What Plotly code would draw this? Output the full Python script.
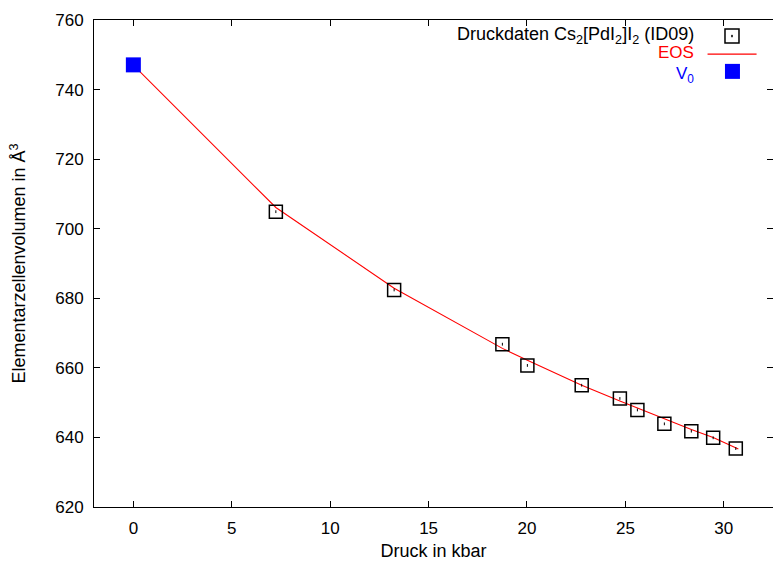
import plotly.graph_objects as go

# ---- data ----
pressure = [7.24, 13.25, 18.75, 20.02, 22.78, 24.72, 25.61, 26.98, 28.35, 29.46, 30.61]
volume = [704.9, 682.4, 666.8, 660.7, 655.0, 651.2, 647.9, 643.9, 641.8, 639.9, 636.8]

eos_p = [0.0, 7.24, 13.25, 18.75, 20.02, 22.78, 24.72, 25.61, 26.98, 28.35, 29.46, 30.61, 30.74]
eos_v = [747.0, 706.1, 682.9, 665.6, 662.2, 655.0, 650.5, 648.5, 645.3, 642.3, 640.0, 637.0, 636.7]

v0_p = [0.0]
v0_v = [747.1]

x_ticks = [0, 5, 10, 15, 20, 25, 30]
y_ticks = [620, 640, 660, 680, 700, 720, 740, 760]

FONT = "Liberation Sans"

fig = go.Figure()

fig.add_trace(go.Scatter(
    x=eos_p, y=eos_v, mode="lines",
    line=dict(color="#ff0000", width=1.1),
    showlegend=False, hoverinfo="skip"))

fig.add_trace(go.Scatter(
    x=pressure, y=volume, mode="markers",
    marker=dict(symbol="square-open", size=13, color="#000000",
                line=dict(color="#000000", width=1.5)),
    showlegend=False))

# tiny centre dot of gnuplot point type
fig.add_trace(go.Scatter(
    x=pressure, y=volume, mode="markers",
    marker=dict(symbol="line-ns-open", size=2, color="#000000",
                line=dict(color="#000000", width=1)),
    showlegend=False, hoverinfo="skip"))

fig.add_trace(go.Scatter(
    x=v0_p, y=v0_v, mode="markers",
    marker=dict(symbol="square", size=15, color="#0000ff",
                line=dict(width=0)),
    showlegend=False))

axis_common = dict(
    showgrid=False, zeroline=False, showline=True, linecolor="#000000",
    linewidth=1, mirror="ticks", ticks="inside", ticklen=6,
    tickcolor="#000000", tickwidth=1, automargin=False,
    ticklabelstandoff=6,
    tickfont=dict(family=FONT, size=17, color="#000000"))

fig.update_xaxes(range=[-2, 32.5], tickvals=x_ticks,
                 ticktext=[str(v) for v in x_ticks],
                 title=dict(text="Druck in kbar",
                            font=dict(family=FONT, size=18, color="#000000"),
                            standoff=6),
                 **axis_common)
fig.update_yaxes(range=[620, 760], tickvals=y_ticks,
                 ticktext=[str(v) for v in y_ticks],
                 title=dict(text="Elementarzellenvolumen in Å<sup>3</sup>",
                            font=dict(family=FONT, size=18, color="#000000"),
                            standoff=24),
                 **axis_common)

# gnuplot-style legend (text right-aligned, sample to the right)
fig.add_annotation(xref="paper", yref="paper", x=0.887, y=0.968,
                   xanchor="right", yanchor="middle", showarrow=False,
                   text="Druckdaten Cs<sub>2</sub>[PdI<sub>2</sub>]I<sub>2</sub> (ID09)",
                   font=dict(family=FONT, size=18, color="#000000"))
fig.add_annotation(xref="paper", yref="paper", x=0.887, y=0.934,
                   xanchor="right", yanchor="middle", showarrow=False,
                   text="EOS", font=dict(family=FONT, size=17, color="#ff0000"))
fig.add_annotation(xref="paper", yref="paper", x=0.887, y=0.913,
                   xanchor="right", yanchor="top", showarrow=False,
                   text="V<sub>0</sub>", font=dict(family=FONT, size=17, color="#0000ff"))

fig.add_shape(type="rect", xref="paper", yref="paper",
              xsizemode="pixel", ysizemode="pixel",
              xanchor=0.9396, yanchor=0.967,
              x0=-7, x1=7, y0=-7, y1=7,
              line=dict(color="#000000", width=1.5), fillcolor="rgba(0,0,0,0)")
fig.add_shape(type="rect", xref="paper", yref="paper",
              xsizemode="pixel", ysizemode="pixel",
              xanchor=0.9396, yanchor=0.967,
              x0=-0.5, x1=0.5, y0=-1, y1=1,
              line=dict(color="#000000", width=0.5), fillcolor="#000000")
fig.add_shape(type="line", xref="paper", yref="paper",
              x0=0.9036, x1=0.9758, y0=0.93, y1=0.93,
              line=dict(color="#ff0000", width=1.1))
fig.add_shape(type="rect", xref="paper", yref="paper",
              xsizemode="pixel", ysizemode="pixel",
              xanchor=0.9403, yanchor=0.8945,
              x0=-7.5, x1=7.5, y0=-7.5, y1=7.5,
              line=dict(width=0), fillcolor="#0000ff")

fig.update_layout(
    width=773, height=562,
    margin=dict(l=94, r=0, t=20, b=55),
    paper_bgcolor="#ffffff", plot_bgcolor="#ffffff",
    font=dict(family=FONT, color="#000000"),
    showlegend=False)

fig.write_html("out.html")
